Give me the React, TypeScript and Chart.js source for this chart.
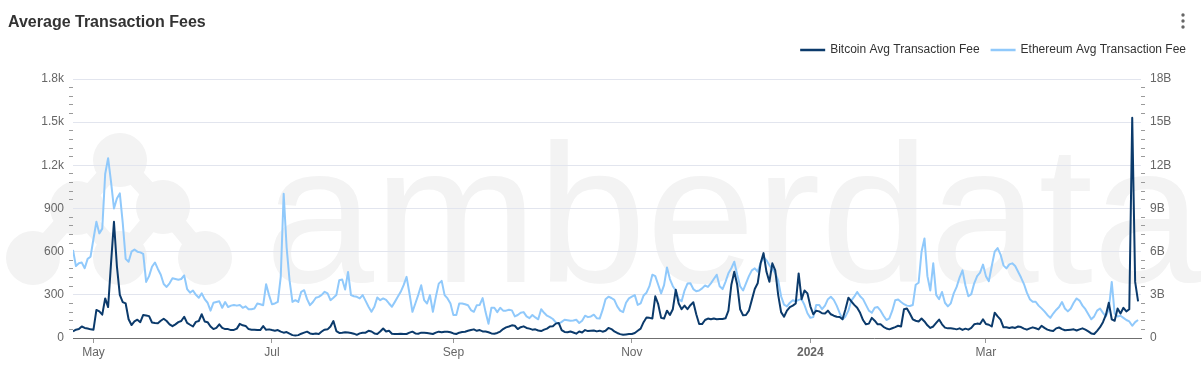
import React, { useEffect, useRef } from 'react';
import { Chart, registerables } from 'chart.js';

Chart.register(...registerables);

const FONT = '"Liberation Sans", Arial, Helvetica, sans-serif';

const seriesNames = ['Bitcoin Avg Transaction Fee', 'Ethereum Avg Transaction Fee'];
const seriesColors = ['#0b3a6b', '#90c9fb'];

// daily values, day 0 = 2023-04-24
const btcAvgFee = [
  46, 58, 62, 80, 70, 66, 60, 58, 195, 185,
  162, 275, 215, 520, 808, 500, 300, 250, 240, 130,
  90, 115, 127, 110, 160, 157, 152, 108, 104, 102,
  120, 134, 118, 95, 82, 95, 110, 118, 148, 105,
  92, 80, 112, 118, 165, 115, 110, 80, 62, 70,
  95, 70, 62, 62, 55, 56, 65, 98, 88, 84,
  62, 58, 58, 55, 55, 83, 57, 60, 55, 51,
  55, 44, 37, 41, 30, 20, 18, 20, 30, 37,
  44, 32, 28, 32, 28, 45, 58, 60, 80, 118,
  48, 35, 37, 40, 38, 35, 30, 22, 32, 37,
  37, 50, 45, 32, 28, 45, 66, 45, 50, 30,
  28, 28, 30, 28, 28, 37, 44, 32, 30, 37,
  37, 35, 32, 28, 37, 44, 40, 44, 44, 40,
  32, 28, 37, 41, 44, 50, 55, 60, 50, 55,
  46, 45, 40, 32, 30, 35, 45, 62, 74, 80,
  88, 85, 62, 75, 81, 70, 65, 58, 60, 52,
  48, 58, 65, 80, 81, 100, 105, 55, 42, 40,
  45, 38, 30, 45, 38, 55, 48, 50, 52, 46,
  51, 44, 50, 70, 62, 46, 35, 27, 23, 25,
  27, 28, 35, 50, 65, 110, 142, 140, 135, 290,
  235, 140, 135, 190, 160, 200, 335, 240, 200, 225,
  200, 228, 248, 165, 97, 97, 125, 135, 130, 135,
  130, 132, 132, 137, 190, 370, 461, 370, 200, 158,
  160, 190, 265, 340, 380, 519, 590, 460, 391, 519,
  470, 300, 180, 148, 190, 215, 225, 240, 449, 270,
  330, 310, 220, 165, 190, 185, 172, 171, 190, 165,
  155, 148, 146, 130, 200, 280, 255, 230, 210, 175,
  125, 95, 100, 140, 120, 95, 95, 78, 66, 60,
  68, 76, 85, 80, 200, 205, 170, 130, 120, 115,
  135, 115, 88, 70, 80, 105, 128, 95, 72, 67,
  67, 65, 60, 67, 56, 65, 58, 70, 95, 100,
  97, 130, 97, 92, 80, 176, 150, 128, 74, 74,
  70, 75, 70, 80, 76, 65, 58, 67, 74, 68,
  60, 85, 70, 58, 52, 48, 67, 73, 62, 54,
  56, 58, 60, 52, 60, 67, 58, 46, 32, 28,
  50, 75, 110, 160, 245, 130, 120, 205, 170, 210,
  185, 200, 1530, 390, 255,
];

// billions
const ethAvgFeeB = [
  6.12, 5.0, 5.2, 5.24, 4.85, 5.5, 5.65, 6.9, 8.08, 7.27,
  7.6, 11.4, 12.5, 10.85, 9.0, 9.7, 10.05, 8.0, 5.5, 5.3,
  6.0, 6.15, 6.0, 5.95, 5.85, 3.9, 4.3, 4.95, 5.25, 4.8,
  4.4, 3.75, 3.55, 3.8, 4.15, 4.1, 4.05, 4.1, 4.35, 3.4,
  3.15, 3.3, 3.0, 2.8, 3.1, 2.7, 2.45, 1.9, 2.45, 2.5,
  2.55, 2.1, 2.5, 2.15, 2.25, 2.3, 2.25, 2.3, 2.1, 2.2,
  2.0, 2.0, 2.05, 2.4, 2.35, 2.28, 3.74, 2.98, 2.35, 2.4,
  2.51, 4.25, 10.02, 6.32, 4.02, 2.51, 2.63, 2.51, 3.21, 3.32,
  2.7, 2.28, 2.5, 2.8, 2.86, 3.0, 3.21, 3.1, 2.63, 2.8,
  2.98, 4.02, 4.06, 3.37, 4.59, 2.98, 2.9, 2.86, 2.75, 2.98,
  2.58, 2.17, 1.82, 2.17, 2.82, 2.63, 2.75, 2.65, 2.4, 2.17,
  2.51, 2.86, 3.21, 3.67, 4.25, 3.09, 1.82, 2.4, 3.0, 3.67,
  2.63, 2.4, 2.98, 1.82, 2.86, 3.78, 3.97, 2.98, 2.75, 2.4,
  1.59, 1.59, 2.4, 2.4, 2.35, 2.28, 1.94, 1.82, 2.28, 2.3,
  2.77, 1.8, 0.99, 2.1, 2.1, 1.8, 2.1, 1.9, 1.9, 1.96,
  1.92, 1.5, 1.6, 1.75, 1.8, 1.5, 1.38, 1.6, 1.43, 1.3,
  2.0, 1.75, 1.55, 1.45, 1.32, 1.08, 0.99, 1.12, 1.27, 1.24,
  1.2, 1.22, 1.27, 1.04, 1.2, 1.55, 1.45, 1.5, 1.62, 1.38,
  1.35, 1.95, 2.7, 2.87, 2.78, 2.65, 2.2, 1.9, 1.8, 2.45,
  2.75, 2.87, 2.98, 2.3, 2.4, 2.95, 3.15, 3.6, 4.4, 4.3,
  3.7, 3.1, 3.68, 4.9, 4.1, 3.6, 3.3, 2.7, 2.55, 3.3,
  3.78, 3.8, 3.4, 3.25, 3.3, 3.45, 3.65, 3.55, 3.8, 4.1,
  4.4, 3.6, 3.4, 3.9, 4.5, 4.85, 5.3, 4.4, 3.6, 3.3,
  3.8, 4.3, 4.7, 4.84, 4.61, 5.2, 5.6, 5.4, 5.05, 4.8,
  4.5, 4.0, 2.9, 2.32, 2.2, 2.45, 2.62, 2.55, 2.65, 2.7,
  2.29, 1.72, 1.4, 1.45, 2.3, 2.3, 2.0, 2.25, 2.7, 2.87,
  2.65, 2.25, 1.75, 1.3, 1.5, 1.9, 2.6, 2.87, 3.2, 2.9,
  2.7, 2.3, 1.9, 1.75, 2.1, 2.15, 1.9, 1.55, 1.25, 1.37,
  1.9, 2.62, 2.68, 2.5, 2.35, 2.25, 2.22, 2.29, 3.7, 3.84,
  6.0, 6.92, 4.3, 3.3, 5.19, 3.0, 2.7, 3.2, 2.45, 2.2,
  2.41, 3.1, 3.55, 4.2, 4.7, 3.65, 2.9, 3.05, 3.8, 4.3,
  4.55, 5.1, 4.3, 3.95, 5.0, 6.0, 6.25, 5.8, 5.05, 4.84,
  5.12, 5.19, 5.0, 4.6, 4.2, 3.75, 3.15, 2.7, 2.52, 2.52,
  2.25, 2.06, 1.85, 1.6, 1.4, 1.7, 1.95, 2.15, 2.5, 2.05,
  1.85, 2.05, 2.45, 2.75, 2.6, 2.25, 2.0, 1.65, 1.3, 1.5,
  1.9, 2.05, 1.75, 1.5, 2.0, 3.9, 1.7, 1.5, 1.55, 1.4,
  1.25, 1.15, 0.85, 1.1, 1.25,
];

const xTickDays = [7, 68, 130, 191, 252, 312];
const xTickLabels = ['May', 'Jul', 'Sep', 'Nov', '2024', 'Mar'];
const leftMajorValues = [0, 300, 600, 900, 1200, 1500, 1800];
const leftMajorLabels = ['0', '300', '600', '900', '1.2k', '1.5k', '1.8k'];
const rightMajorValues = [0, 3, 6, 9, 12, 15, 18];
const rightMajorLabels = ['0', '3B', '6B', '9B', '12B', '15B', '18B'];

const GRID = '#e2e5ee';
const MINOR = '#9a9a9a';
const LABEL = '#666666';
const CLEAR = 'rgba(0,0,0,0)';
const WATERMARK = '#f3f3f3';

const leftIdx = (v: number) => leftMajorValues.findIndex((m) => Math.abs(m - v) < 1e-6);
const rightIdx = (v: number) => rightMajorValues.findIndex((m) => Math.abs(m - v) < 1e-6);

const watermarkPlugin = {
  id: 'watermark',
  beforeDraw(chart: any) {
    const ctx = chart.ctx;
    ctx.save();
    ctx.fillStyle = WATERMARK;
    ctx.strokeStyle = WATERMARK;
    const nodes = [[120, 160], [77, 208], [163, 207], [33, 258], [120, 258], [205, 258]];
    const links = [[0, 1], [0, 2], [1, 3], [1, 4], [2, 4], [2, 5]];
    ctx.lineWidth = 18;
    ctx.lineCap = 'round';
    links.forEach(([a, b]) => {
      ctx.beginPath();
      ctx.moveTo(nodes[a][0], nodes[a][1]);
      ctx.lineTo(nodes[b][0], nodes[b][1]);
      ctx.stroke();
    });
    nodes.forEach(([x, y]) => {
      ctx.beginPath();
      ctx.arc(x, y, 27, 0, Math.PI * 2);
      ctx.fill();
    });
    ctx.font = '196px ' + FONT;
    ctx.textBaseline = 'alphabetic';
    ctx.textAlign = 'left';
    ctx.fillText('amberdata', 265, 282);
    ctx.restore();
  },
};

const legendPlugin = {
  id: 'customLegend',
  afterDraw(chart: any) {
    const ctx = chart.ctx;
    ctx.save();
    ctx.font = '12px ' + FONT;
    ctx.textBaseline = 'middle';
    ctx.textAlign = 'left';
    const y = 50;
    let right = 1186;
    const ds = chart.data.datasets;
    for (let i = ds.length - 1; i >= 0; i--) {
      const text = ds[i].label as string;
      const w = ctx.measureText(text).width;
      const tx = right - w;
      ctx.fillStyle = '#333333';
      ctx.fillText(text, tx, y);
      ctx.strokeStyle = ds[i].borderColor;
      ctx.lineWidth = 2.5;
      ctx.beginPath();
      ctx.moveTo(tx - 30, y);
      ctx.lineTo(tx - 5, y);
      ctx.stroke();
      right = tx - 41;
    }
    // menu dots
    ctx.fillStyle = '#666666';
    [15, 21, 27].forEach((dy) => {
      ctx.beginPath();
      ctx.arc(1183, dy, 1.7, 0, Math.PI * 2);
      ctx.fill();
    });
    ctx.restore();
  },
};

export default function App() {
  const canvasRef = useRef<HTMLCanvasElement | null>(null);

  useEffect(() => {
    document.body.style.margin = '0';
    const canvas = canvasRef.current;
    if (!canvas) return;
    const leftTicks = Array.from({ length: 31 }, (_, i) => i * 60);
    const rightTicks = Array.from({ length: 31 }, (_, i) => Math.round(i * 6) / 10);

    const chart = new Chart(canvas, {
      type: 'line',
      data: {
        datasets: [
          {
            label: seriesNames[0],
            data: btcAvgFee.map((v, i) => ({ x: i, y: v })),
            borderColor: seriesColors[0],
            backgroundColor: seriesColors[0],
            borderWidth: 2,
            pointRadius: 0,
            tension: 0,
            borderJoinStyle: 'round',
            yAxisID: 'y',
          },
          {
            label: seriesNames[1],
            data: ethAvgFeeB.map((v, i) => ({ x: i, y: v })),
            borderColor: seriesColors[1],
            backgroundColor: seriesColors[1],
            borderWidth: 2,
            pointRadius: 0,
            tension: 0,
            borderJoinStyle: 'round',
            yAxisID: 'y1',
          },
        ],
      },
      options: {
        responsive: false,
        maintainAspectRatio: false,
        animation: false,
        devicePixelRatio: 1,
        layout: { padding: { top: 79, left: 0, right: 0, bottom: 0 } },
        plugins: {
          legend: { display: false },
          title: { display: false },
          tooltip: { enabled: false },
        },
        scales: {
          x: {
            type: 'linear',
            position: 'bottom',
            min: 0,
            max: 365,
            afterFit: (s: any) => { s.height = 38; },
            afterBuildTicks: (s: any) => { s.ticks = xTickDays.map((v) => ({ value: v })); },
            ticks: {
              autoSkip: false,
              maxRotation: 0,
              padding: 2,
              color: LABEL,
              font: (c: any) => ({
                family: FONT,
                size: 12,
                weight: c.tick && c.tick.value === 252 ? 'bold' : 'normal',
              }),
              callback: (v: any) => {
                const k = xTickDays.indexOf(Number(v));
                return k >= 0 ? xTickLabels[k] : '';
              },
            },
            grid: {
              display: true,
              drawOnChartArea: false,
              drawTicks: true,
              tickLength: 5,
              tickColor: '#999999',
            },
            border: { display: true, color: '#6f6f6f', width: 1 },
          },
          y: {
            type: 'linear',
            position: 'left',
            min: 0,
            max: 1800,
            afterFit: (s: any) => { s.width = 73; },
            afterBuildTicks: (s: any) => { s.ticks = leftTicks.map((v) => ({ value: v })); },
            ticks: {
              autoSkip: false,
              padding: 5,
              color: LABEL,
              font: { family: FONT, size: 12 },
              callback: (v: any) => {
                const k = leftIdx(Number(v));
                return k >= 0 ? leftMajorLabels[k] : '';
              },
            },
            grid: {
              display: true,
              drawOnChartArea: true,
              drawTicks: true,
              tickLength: 4,
              lineWidth: 1,
              color: (c: any) => {
                const v = c.tick ? c.tick.value : -1;
                return leftIdx(v) > 0 ? GRID : CLEAR;
              },
              tickColor: (c: any) => {
                const v = c.tick ? c.tick.value : -1;
                return leftIdx(v) >= 0 ? CLEAR : MINOR;
              },
            },
            border: { display: false },
          },
          y1: {
            type: 'linear',
            position: 'right',
            min: 0,
            max: 18,
            afterFit: (s: any) => { s.width = 60; },
            afterBuildTicks: (s: any) => { s.ticks = rightTicks.map((v) => ({ value: v })); },
            ticks: {
              autoSkip: false,
              padding: 5,
              color: LABEL,
              font: { family: FONT, size: 12 },
              callback: (v: any) => {
                const k = rightIdx(Number(v));
                return k >= 0 ? rightMajorLabels[k] : '';
              },
            },
            grid: {
              display: true,
              drawOnChartArea: false,
              drawTicks: true,
              tickLength: 4,
              tickColor: (c: any) => {
                const v = c.tick ? c.tick.value : -1;
                return rightIdx(v) >= 0 ? CLEAR : MINOR;
              },
            },
            border: { display: false },
          },
        },
      },
      plugins: [watermarkPlugin, legendPlugin],
    } as any);

    return () => chart.destroy();
  }, []);

  return (
    <div style={{ position: 'relative', width: 1201, height: 376, background: '#ffffff', overflow: 'hidden' }}>
      <canvas
        ref={canvasRef}
        width={1201}
        height={376}
        style={{ position: 'absolute', left: 0, top: 0, width: 1201, height: 376 }}
      />
      <div
        style={{
          position: 'absolute',
          left: 8,
          top: 12,
          font: 'bold 16px ' + FONT,
          lineHeight: '20px',
          color: '#333333',
          whiteSpace: 'nowrap',
        }}
      >
        Average Transaction Fees
      </div>
    </div>
  );
}
